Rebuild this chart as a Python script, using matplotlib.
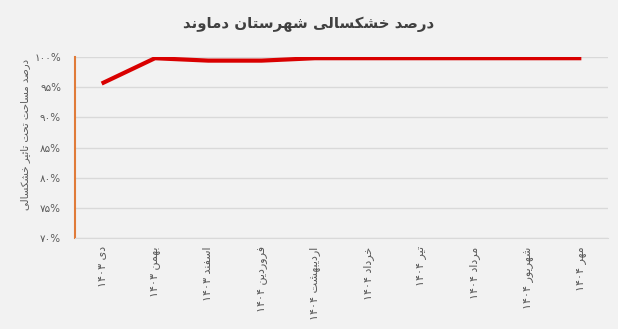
import matplotlib
matplotlib.use("Agg")
import matplotlib.pyplot as plt

# ---------------- data ----------------
title = "درصد خشکسالی شهرستان دماوند"
ylabel = "درصد مساحت تحت تاثیر خشکسالی"
months = ["دی ۱۴۰۳", "بهمن ۱۴۰۳", "اسفند ۱۴۰۳", "فروردین ۱۴۰۴", "اردیبهشت ۱۴۰۴",
          "خرداد ۱۴۰۴", "تیر ۱۴۰۴", "مرداد ۱۴۰۴", "شهریور ۱۴۰۴", "مهر ۱۴۰۴"]
values = [95.6, 99.8, 99.4, 99.4, 99.8, 99.8, 99.8, 99.8, 99.8, 99.8]
yticks = [70, 75, 80, 85, 90, 95, 100]

# ------------- minimal Persian shaping -------------
FORMS = {
    'ا': ('\uFE8D', '\uFE8E', None, None),
    'آ': ('\uFE81', '\uFE82', None, None),
    'ب': ('\uFE8F', '\uFE90', '\uFE91', '\uFE92'),
    'پ': ('\uFB56', '\uFB57', '\uFB58', '\uFB59'),
    'ت': ('\uFE95', '\uFE96', '\uFE97', '\uFE98'),
    'ث': ('\uFE99', '\uFE9A', '\uFE9B', '\uFE9C'),
    'ج': ('\uFE9D', '\uFE9E', '\uFE9F', '\uFEA0'),
    'ح': ('\uFEA1', '\uFEA2', '\uFEA3', '\uFEA4'),
    'خ': ('\uFEA5', '\uFEA6', '\uFEA7', '\uFEA8'),
    'د': ('\uFEA9', '\uFEAA', None, None),
    'ذ': ('\uFEAB', '\uFEAC', None, None),
    'ر': ('\uFEAD', '\uFEAE', None, None),
    'ز': ('\uFEAF', '\uFEB0', None, None),
    'ژ': ('\uFB8A', '\uFB8B', None, None),
    'س': ('\uFEB1', '\uFEB2', '\uFEB3', '\uFEB4'),
    'ش': ('\uFEB5', '\uFEB6', '\uFEB7', '\uFEB8'),
    'ص': ('\uFEB9', '\uFEBA', '\uFEBB', '\uFEBC'),
    'ض': ('\uFEBD', '\uFEBE', '\uFEBF', '\uFEC0'),
    'ط': ('\uFEC1', '\uFEC2', '\uFEC3', '\uFEC4'),
    'ع': ('\uFEC9', '\uFECA', '\uFECB', '\uFECC'),
    'ف': ('\uFED1', '\uFED2', '\uFED3', '\uFED4'),
    'ق': ('\uFED5', '\uFED6', '\uFED7', '\uFED8'),
    'ک': ('\uFB8E', '\uFB8F', '\uFB90', '\uFB91'),
    'گ': ('\uFB92', '\uFB93', '\uFB94', '\uFB95'),
    'ل': ('\uFEDD', '\uFEDE', '\uFEDF', '\uFEE0'),
    'م': ('\uFEE1', '\uFEE2', '\uFEE3', '\uFEE4'),
    'ن': ('\uFEE5', '\uFEE6', '\uFEE7', '\uFEE8'),
    'ه': ('\uFEE9', '\uFEEA', '\uFEEB', '\uFEEC'),
    'و': ('\uFEED', '\uFEEE', None, None),
    'ی': ('\uFBFC', '\uFBFD', '\uFBFE', '\uFBFF'),
}


def shape_word(w):
    out = []
    n = len(w)
    for i, ch in enumerate(w):
        if ch not in FORMS:
            out.append(ch)
            continue
        prev = w[i - 1] if i > 0 else None
        nxt = w[i + 1] if i < n - 1 else None
        jp = prev in FORMS and FORMS[prev][2] is not None
        jn = nxt in FORMS and FORMS[ch][2] is not None
        iso, fin, ini, med = FORMS[ch]
        if jp and jn:
            out.append(med)
        elif jp:
            out.append(fin)
        elif jn:
            out.append(ini)
        else:
            out.append(iso)
    return out


def fa(s):
    tokens = s.split(" ")
    vis = []
    for t in tokens:
        if any(c in FORMS for c in t):
            vis.append("".join(reversed(shape_word(t))))
        else:
            vis.append(t)
    return " ".join(reversed(vis))


DIG = str.maketrans("0123456789", "۰۱۲۳۴۵۶۷۸۹")

plt.rcParams['font.family'] = ['DejaVu Sans']

fig = plt.figure(figsize=(6.18, 3.29), dpi=100, facecolor="#F2F2F2")
ax = fig.add_axes([75 / 618, 1 - 238 / 329, (608 - 75) / 618, (238 - 57) / 329])
ax.set_facecolor("#F2F2F2")

x = list(range(len(months)))
ax.plot(x, values, color="#D90000", lw=3.0, solid_capstyle="butt", zorder=3)

ax.set_xlim(-0.5, len(months) - 0.5)
ax.set_ylim(70, 100)
ax.set_yticks(yticks)
ax.set_yticklabels([(str(v) + "%").translate(DIG) for v in yticks],
                   fontsize=7.5, color="#595959")
ax.set_xticks(x)
ax.set_xticklabels([fa(m) for m in months], rotation=90, fontsize=8,
                   color="#595959", va="top", ha="center")
ax.tick_params(axis="y", length=0, pad=10)
ax.tick_params(axis="x", length=0, pad=6)
ax.grid(axis="y", color="#D9D9D9", lw=1)
ax.set_axisbelow(True)
for s in ["top", "right"]:
    ax.spines[s].set_visible(False)
ax.spines["left"].set_color("#E07B39")
ax.spines["left"].set_linewidth(1.5)
ax.spines["bottom"].set_color("#D9D9D9")

fig.text(0.5, 1 - 24 / 329, fa(title), ha="center", va="center",
         fontsize=10.8, fontweight="bold", color="#404040")
fig.text(25 / 618, 1 - 134 / 329, fa(ylabel), rotation=90, ha="center",
         va="center", fontsize=7.3, color="#595959")

fig.savefig("out.png", dpi=100, facecolor=fig.get_facecolor())
